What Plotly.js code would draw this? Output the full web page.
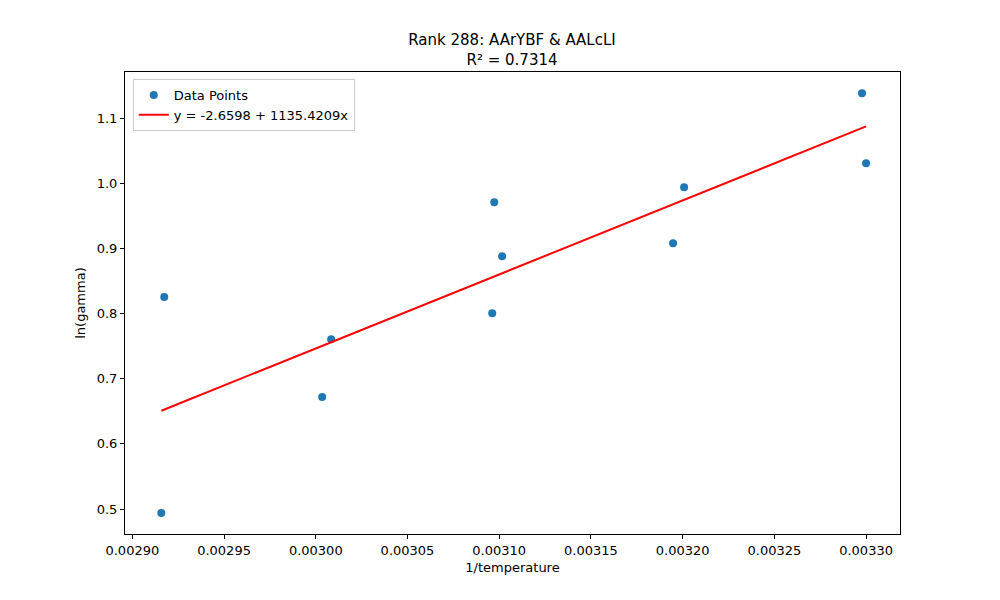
<!DOCTYPE html>
<html>
<head>
<script src="https://cdn.plot.ly/plotly-3.0.1.min.js"></script>
<style>body{margin:0}</style>
</head>
<body>
<div id="chart" style="width:1000px;height:600px"></div>
<script>
const invTemp = [0.0029158, 0.0029174, 0.0030035, 0.0030084, 0.0030962, 0.0030973, 0.0031016, 0.0031948, 0.0032008, 0.0032978, 0.0033000];
const lnGamma = [0.4939, 0.8252, 0.6718, 0.7607, 0.8006, 0.9709, 0.8880, 0.9080, 0.9939, 1.1380, 1.0307];
const intercept = -2.6598;
const slope = 1135.4209;

const xMin = Math.min(...invTemp);
const xMax = Math.max(...invTemp);
const fitX = [xMin, xMax];
const fitY = fitX.map((x) => intercept + slope * x);

const traces = [
  {
    type: "scatter", mode: "markers", name: "Data Points",
    x: invTemp, y: lnGamma,
    marker: { color: "#1f77b4", size: 8 },
  },
  {
    type: "scatter", mode: "lines", name: "y = -2.6598 + 1135.4209x",
    x: fitX, y: fitY,
    line: { color: "red", width: 2 },
  },
];

const axisStyle = {
  showgrid: false, zeroline: false, showline: true, mirror: true,
  linecolor: "black", linewidth: 1, ticks: "outside", ticklen: 4,
  tickcolor: "black", tickfont: { size: 13 },
};

const layout = {
  width: 1000, height: 600,
  margin: { l: 125, r: 100, t: 72, b: 66 },
  paper_bgcolor: "white", plot_bgcolor: "white",
  font: { family: "DejaVu Sans", color: "black" },
  title: { text: "Rank 288: AArYBF & AALcLI<br>R² = 0.7314", x: 0.512, y: 0.925, xanchor: "center", font: { size: 15 } },
  xaxis: Object.assign({}, axisStyle, {
    range: [0.0028960, 0.0033185], tickformat: ".5f", dtick: 0.00005, tick0: 0.0029,
    title: { text: "1/temperature", font: { size: 13 }, standoff: 6 },
  }),
  yaxis: Object.assign({}, axisStyle, {
    range: [0.4617, 1.1706], dtick: 0.1, tickformat: ".1f",
    title: { text: "ln(gamma)", font: { size: 13 }, standoff: 8 },
  }),
  legend: {
    x: 0.01, y: 0.985, xanchor: "left", yanchor: "top",
    bordercolor: "#cccccc", borderwidth: 1, bgcolor: "white", font: { size: 13 },
  },
  showlegend: true,
};

Plotly.newPlot("chart", traces, layout, { displayModeBar: false });
</script>
</body>
</html>
